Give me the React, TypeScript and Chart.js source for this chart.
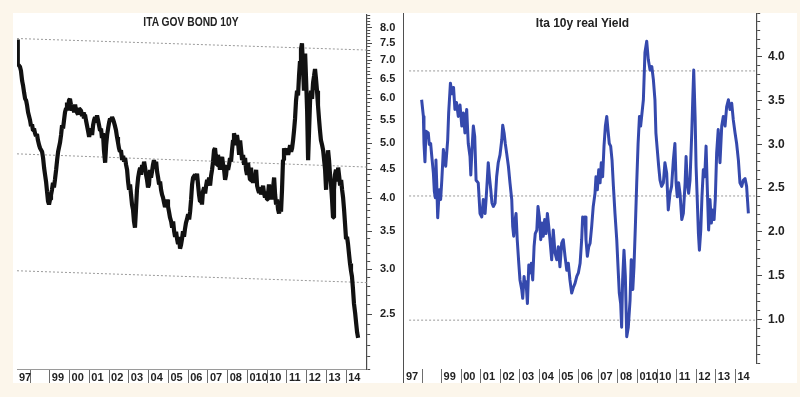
import React, { useEffect, useRef } from 'react';
import { Chart, registerables } from 'chart.js';

Chart.register(...registerables);

// ---------- data (decimal year, value) ----------
const govBond10y: [number, number][] = [
  [1997.34,7.62],[1997.37,7.12],[1997.39,6.90],[1997.49,6.82],[1997.54,6.71],[1997.60,6.44],[1997.65,6.31],[1997.70,6.14],[1997.75,5.99],[1997.80,5.95],
  [1997.85,5.83],[1997.90,5.67],[1997.95,5.58],[1998.00,5.49],[1998.05,5.36],[1998.10,5.40],[1998.15,5.27],[1998.20,5.31],[1998.25,5.21],[1998.30,5.15],
  [1998.35,5.19],[1998.40,5.06],[1998.46,4.96],[1998.51,4.90],[1998.61,4.83],[1998.66,4.71],[1998.71,4.53],[1998.76,4.40],[1998.81,4.28],[1998.86,4.11],
  [1998.91,3.95],[1998.96,3.90],[1999.01,3.98],[1999.06,4.05],[1999.11,4.14],[1999.16,4.26],[1999.21,4.18],[1999.26,4.31],[1999.32,4.49],[1999.37,4.67],
  [1999.42,4.83],[1999.52,5.02],[1999.57,5.17],[1999.62,5.38],[1999.67,5.31],[1999.72,5.49],[1999.77,5.67],[1999.82,5.76],[1999.87,5.90],[1999.92,5.71],
  [1999.97,5.95],[2000.02,5.99],[2000.07,5.85],[2000.13,5.71],[2000.18,5.80],[2000.23,5.67],[2000.28,5.85],[2000.33,5.71],[2000.43,5.62],[2000.48,5.76],
  [2000.58,5.71],[2000.63,5.58],[2000.68,5.67],[2000.73,5.53],[2000.78,5.62],[2000.83,5.49],[2000.88,5.38],[2000.93,5.27],[2000.99,5.13],[2001.04,5.25],
  [2001.09,5.31],[2001.14,5.17],[2001.19,5.38],[2001.24,5.49],[2001.29,5.56],[2001.34,5.44],[2001.39,5.60],[2001.44,5.49],[2001.49,5.38],[2001.54,5.27],
  [2001.59,5.31],[2001.64,5.11],[2001.69,5.21],[2001.74,4.86],[2001.80,4.62],[2001.85,4.96],[2001.90,5.17],[2001.95,5.31],[2002.00,5.44],[2002.05,5.53],
  [2002.10,5.49],[2002.15,5.56],[2002.20,5.51],[2002.25,5.44],[2002.30,5.36],[2002.35,5.27],[2002.40,5.13],[2002.45,5.02],[2002.50,4.90],[2002.55,4.83],
  [2002.60,4.86],[2002.66,4.67],[2002.71,4.75],[2002.76,4.64],[2002.81,4.71],[2002.86,4.58],[2002.91,4.49],[2002.96,4.28],[2003.01,4.14],[2003.06,4.23],
  [2003.11,4.06],[2003.16,3.90],[2003.21,3.82],[2003.26,3.64],[2003.31,3.55],[2003.36,3.82],[2003.41,4.14],[2003.47,4.35],[2003.52,4.45],[2003.57,4.53],
  [2003.62,4.40],[2003.67,4.58],[2003.72,4.49],[2003.77,4.64],[2003.82,4.53],[2003.87,4.40],[2003.92,4.31],[2003.97,4.18],[2004.02,4.23],[2004.07,4.49],
  [2004.12,4.35],[2004.17,4.45],[2004.22,4.58],[2004.27,4.67],[2004.33,4.53],[2004.38,4.64],[2004.43,4.45],[2004.48,4.35],[2004.53,4.23],[2004.58,4.28],
  [2004.63,4.14],[2004.68,4.06],[2004.73,4.01],[2004.78,3.93],[2004.83,3.86],[2004.88,3.90],[2004.93,3.98],[2004.98,3.87],[2005.03,3.79],[2005.08,3.70],
  [2005.14,3.64],[2005.19,3.55],[2005.24,3.64],[2005.29,3.50],[2005.34,3.42],[2005.39,3.49],[2005.44,3.39],[2005.49,3.32],[2005.54,3.42],[2005.59,3.26],
  [2005.64,3.31],[2005.69,3.39],[2005.74,3.50],[2005.79,3.42],[2005.84,3.53],[2005.89,3.62],[2005.94,3.67],[2006.00,3.75],[2006.05,3.67],[2006.10,3.79],
  [2006.15,3.98],[2006.20,4.23],[2006.25,4.35],[2006.35,4.40],[2006.40,4.31],[2006.45,4.42],[2006.50,4.23],[2006.55,4.06],[2006.60,3.95],[2006.65,4.01],
  [2006.70,3.90],[2006.75,4.11],[2006.81,4.18],[2006.86,4.08],[2006.91,4.21],[2006.96,4.31],[2007.01,4.25],[2007.06,4.35],[2007.11,4.21],[2007.16,4.38],
  [2007.21,4.49],[2007.26,4.64],[2007.31,4.86],[2007.36,4.90],[2007.41,4.71],[2007.46,4.58],[2007.51,4.77],[2007.56,4.64],[2007.61,4.49],[2007.67,4.67],
  [2007.72,4.73],[2007.77,4.58],[2007.82,4.49],[2007.87,4.31],[2007.92,4.40],[2007.97,4.58],[2008.02,4.49],[2008.07,4.58],[2008.12,4.71],[2008.17,4.64],
  [2008.22,4.86],[2008.27,5.06],[2008.32,5.21],[2008.37,5.11],[2008.42,4.96],[2008.47,5.17],[2008.53,5.00],[2008.58,4.77],[2008.63,5.06],[2008.68,4.86],
  [2008.73,4.67],[2008.78,4.77],[2008.83,4.58],[2008.88,4.71],[2008.93,4.49],[2008.98,4.40],[2009.03,4.62],[2009.08,4.45],[2009.13,4.31],[2009.18,4.53],
  [2009.23,4.35],[2009.28,4.26],[2009.34,4.40],[2009.39,4.28],[2009.44,4.49],[2009.49,4.21],[2009.54,4.14],[2009.59,4.09],[2009.64,4.18],[2009.69,4.06],
  [2009.74,4.14],[2009.79,4.21],[2009.84,4.08],[2009.89,4.01],[2009.94,4.11],[2009.99,3.98],[2010.04,4.06],[2010.09,4.23],[2010.14,4.05],[2010.20,4.14],
  [2010.25,3.98],[2010.30,4.18],[2010.35,4.35],[2010.40,4.06],[2010.45,3.90],[2010.50,3.98],[2010.55,3.82],[2010.60,3.76],[2010.65,3.87],[2010.70,3.79],
  [2010.75,4.14],[2010.80,4.67],[2010.85,4.90],[2010.90,4.83],[2010.95,4.77],[2011.01,4.90],[2011.06,4.77],[2011.11,4.86],[2011.16,4.96],[2011.21,4.83],
  [2011.26,4.90],[2011.31,5.06],[2011.36,5.27],[2011.41,5.53],[2011.46,5.95],[2011.51,6.19],[2011.56,6.07],[2011.61,6.57],[2011.66,6.98],[2011.71,7.32],
  [2011.76,7.50],[2011.81,6.84],[2011.86,6.19],[2011.92,7.20],[2011.97,6.44],[2012.02,5.71],[2012.07,4.67],[2012.12,5.27],[2012.17,5.95],[2012.22,6.19],
  [2012.27,5.99],[2012.32,6.39],[2012.37,6.57],[2012.42,6.76],[2012.47,6.49],[2012.52,6.19],[2012.57,5.83],[2012.62,5.53],[2012.67,5.27],[2012.72,5.06],
  [2012.78,4.96],[2012.83,4.86],[2012.88,4.67],[2012.93,4.49],[2012.98,4.14],[2013.03,4.58],[2013.08,4.86],[2013.13,4.67],[2013.18,4.40],[2013.23,4.23],
  [2013.28,3.98],[2013.33,3.70],[2013.38,4.14],[2013.43,4.40],[2013.48,4.49],[2013.53,4.28],[2013.59,4.53],[2013.64,4.38],[2013.69,4.21],[2013.74,4.31],
  [2013.79,4.14],[2013.84,4.01],[2013.89,3.82],[2013.94,3.60],[2013.99,3.39],[2014.04,3.42],[2014.09,3.32],[2014.14,3.19],[2014.19,3.07],[2014.24,2.98],
  [2014.29,2.91],[2014.34,2.77],[2014.39,2.61],[2014.45,2.51],[2014.50,2.41],[2014.55,2.32],[2014.60,2.27],
];

const realYield10y: [number, number][] = [
  [1997.98,3.51],[1998.07,3.32],[1998.10,3.01],[1998.15,2.80],[1998.20,3.15],[1998.32,3.13],[1998.37,3.00],[1998.44,3.01],[1998.50,2.86],[1998.58,2.67],
  [1998.63,2.46],[1998.68,2.39],[1998.71,2.82],[1998.75,2.56],[1998.80,2.16],[1998.88,2.48],[1998.95,2.37],[1999.01,2.59],[1999.09,2.94],[1999.16,2.82],
  [1999.21,2.75],[1999.26,2.90],[1999.31,3.05],[1999.36,3.36],[1999.41,3.55],[1999.45,3.70],[1999.53,3.58],[1999.61,3.65],[1999.68,3.40],[1999.76,3.48],
  [1999.85,3.32],[1999.94,3.45],[2000.03,3.21],[2000.11,3.36],[2000.19,3.13],[2000.28,3.40],[2000.36,3.01],[2000.45,2.86],[2000.49,2.65],[2000.55,2.94],
  [2000.62,3.21],[2000.69,3.09],[2000.76,2.59],[2000.87,2.56],[2000.96,2.21],[2001.05,2.17],[2001.13,2.37],[2001.22,2.21],[2001.27,2.37],[2001.33,2.59],
  [2001.38,2.79],[2001.44,2.63],[2001.51,2.48],[2001.57,2.33],[2001.64,2.29],[2001.73,2.33],[2001.81,2.63],[2001.89,2.79],[2001.98,2.88],[2002.07,3.05],
  [2002.12,3.22],[2002.19,3.13],[2002.25,3.01],[2002.32,2.90],[2002.41,2.75],[2002.49,2.56],[2002.58,2.37],[2002.63,2.06],[2002.68,1.95],[2002.73,2.10],
  [2002.80,2.21],[2002.86,1.91],[2002.94,1.64],[2003.00,1.45],[2003.09,1.34],[2003.14,1.24],[2003.21,1.49],[2003.26,1.37],[2003.31,1.43],[2003.38,1.18],
  [2003.45,1.62],[2003.51,1.53],[2003.58,1.64],[2003.65,1.45],[2003.72,1.83],[2003.78,1.98],[2003.86,2.02],[2003.92,2.29],[2003.99,2.17],[2004.06,1.91],
  [2004.13,2.10],[2004.19,1.95],[2004.26,2.14],[2004.33,1.98],[2004.40,2.21],[2004.47,2.06],[2004.53,1.91],[2004.62,1.68],[2004.70,2.02],[2004.79,1.76],
  [2004.88,1.68],[2004.96,1.83],[2005.04,1.60],[2005.13,1.87],[2005.21,1.91],[2005.30,1.72],[2005.39,1.56],[2005.47,1.64],[2005.55,1.45],[2005.64,1.30],
  [2005.72,1.36],[2005.81,1.41],[2005.90,1.49],[2005.98,1.53],[2006.07,1.64],[2006.15,1.91],[2006.20,2.17],[2006.27,2.10],[2006.32,2.17],[2006.37,1.91],
  [2006.44,1.72],[2006.51,1.83],[2006.58,1.87],[2006.66,2.06],[2006.74,2.29],[2006.83,2.44],[2006.88,2.63],[2006.95,2.48],[2007.02,2.71],[2007.09,2.56],
  [2007.15,2.79],[2007.22,2.63],[2007.29,2.98],[2007.36,3.21],[2007.43,3.32],[2007.49,3.17],[2007.56,3.01],[2007.63,2.98],[2007.70,2.82],[2007.77,2.52],
  [2007.85,2.21],[2007.94,1.91],[2008.02,1.53],[2008.07,1.30],[2008.14,1.18],[2008.19,0.91],[2008.24,1.45],[2008.31,1.79],[2008.38,1.49],[2008.45,0.80],
  [2008.53,0.91],[2008.62,1.22],[2008.68,1.68],[2008.76,1.34],[2008.82,1.60],[2008.89,2.06],[2008.96,2.56],[2009.03,3.01],[2009.10,3.32],[2009.16,3.21],
  [2009.23,3.36],[2009.30,3.51],[2009.38,4.05],[2009.47,4.18],[2009.55,3.97],[2009.64,3.85],[2009.73,3.89],[2009.81,3.74],[2009.89,3.51],[2009.94,3.13],
  [2010.01,2.94],[2010.08,2.75],[2010.15,2.59],[2010.23,2.52],[2010.32,2.56],[2010.40,2.79],[2010.49,2.67],[2010.57,2.25],[2010.66,2.44],[2010.74,2.52],
  [2010.83,2.82],[2010.91,3.01],[2010.97,2.56],[2011.03,2.40],[2011.10,2.56],[2011.17,2.44],[2011.26,2.14],[2011.34,2.21],[2011.43,2.56],[2011.48,2.86],
  [2011.54,2.56],[2011.61,2.44],[2011.68,2.59],[2011.77,3.13],[2011.82,3.51],[2011.87,3.85],[2011.94,3.32],[2011.99,2.75],[2012.05,2.37],[2012.11,1.98],
  [2012.16,1.79],[2012.23,2.02],[2012.29,2.40],[2012.36,2.71],[2012.43,2.63],[2012.50,2.98],[2012.56,2.52],[2012.63,2.02],[2012.70,2.37],[2012.77,2.10],
  [2012.84,2.25],[2012.91,2.14],[2012.97,2.37],[2013.04,2.90],[2013.12,3.17],[2013.21,2.79],[2013.30,3.21],[2013.38,3.32],[2013.47,3.21],[2013.55,3.43],
  [2013.64,3.51],[2013.72,3.40],[2013.81,3.47],[2013.89,3.28],[2013.98,3.13],[2014.06,3.01],[2014.15,2.82],[2014.23,2.56],[2014.32,2.52],[2014.40,2.59],
  [2014.49,2.61],[2014.57,2.52],[2014.66,2.21],
];

// dotted trend lines, left panel: [start value, end value] across the whole time span
const leftTrendTop: [number, number] = [7.65, 7.30];
const leftTrendMid: [number, number] = [4.79, 4.54];
const leftTrendLow: [number, number] = [2.98, 2.84];
// dotted horizontal levels, right panel
const rightLevels: number[] = [3.84, 2.41, 0.99];
const rightLevelStart = 1997.34;

// axes
const leftXRange: [number, number] = [1997.34, 2015.05];
const rightXRange: [number, number] = [1997.08, 2015.1];
const yearTicks: number[] = [1997, 1998, 1999, 2000, 2001, 2002, 2003, 2004, 2005, 2006, 2007, 2008, 2009, 2010, 2011, 2012, 2013, 2014];
const yearLabels: string[] = ['97', '', '99', '00', '01', '02', '03', '04', '05', '06', '07', '08', '010', '10', '11', '12', '13', '14'];
const leftYRange: [number, number] = [2.0, 8.43];
const leftYLabels: number[] = [2.5, 3.0, 3.5, 4.0, 4.5, 5.0, 5.5, 6.0, 6.5, 7.0, 7.5, 8.0];
const rightYRange: [number, number] = [0.5, 4.5];
const rightYLabels: number[] = [1.0, 1.5, 2.0, 2.5, 3.0, 3.5, 4.0];

const leftTitle = 'ITA GOV BOND 10Y';
const rightTitle = 'Ita 10y real Yield';

const FONT = "'Liberation Sans', Arial, Helvetica, sans-serif";
const INK = '#222222';
const AXIS = '#4a4a4a';

const r1 = (v: number) => Math.round(v * 10) / 10;

function tenthTicks(lo: number, hi: number) {
  const out: { value: number }[] = [];
  for (let k = Math.round(lo * 10); k <= Math.round(hi * 10); k++) out.push({ value: k / 10 });
  return out;
}

function xAxis(range: [number, number], height: number, tickLength: number, gap: number, padding: number, border: boolean) {
  return {
    type: 'linear' as const,
    min: range[0],
    max: range[1],
    bounds: 'data' as const,
    afterBuildTicks: (s: any) => {
      s.ticks = yearTicks.map((v) => ({ value: Math.max(v, range[0]) }));
    },
    afterFit: (s: any) => {
      s.height = height;
    },
    grid: {
      drawOnChartArea: false,
      drawTicks: true,
      tickLength,
      lineWidth: 1,
      color: (c: any) => (c.index === 0 ? 'rgba(0,0,0,0)' : '#6e6e6e'),
      tickBorderDash: gap > 0 ? [0, gap, tickLength - gap, 0] : [],
    },
    border: { display: border, color: '#9a9a9a', width: 1 },
    ticks: {
      autoSkip: false,
      maxRotation: 0,
      minRotation: 0,
      align: 'start' as const,
      labelOffset: 2,
      padding,
      color: INK,
      font: { family: FONT, size: 11, weight: 'bold' as const },
      callback: (_v: any, i: number) => yearLabels[i] ?? '',
    },
  };
}

function yAxis(type: 'linear' | 'logarithmic', range: [number, number], labels: number[], width: number, padding: number, size: number) {
  const isLabel = (v: number) => labels.includes(r1(v));
  return {
    type,
    position: 'right' as const,
    min: range[0],
    max: range[1],
    bounds: 'data' as const,
    afterBuildTicks: (s: any) => {
      s.ticks = tenthTicks(range[0], Math.floor(range[1] * 10) / 10);
    },
    afterFit: (s: any) => {
      s.width = width;
    },
    grid: {
      drawOnChartArea: false,
      drawTicks: true,
      tickLength: 5,
      lineWidth: 1,
      color: AXIS,
      tickBorderDash: (c: any) => (c.tick && isLabel(c.tick.value) ? [] : [3, 10]),
    },
    border: { display: true, color: AXIS, width: 1.2 },
    ticks: {
      autoSkip: false,
      padding,
      color: INK,
      font: { family: FONT, size, weight: 'bold' as const },
      callback: (v: any) => (isLabel(Number(v)) ? Number(v).toFixed(1) : ''),
    },
  };
}

const pts = (arr: [number, number][]) => arr.map(([x, y]) => ({ x, y }));

export default function App() {
  const leftRef = useRef<HTMLCanvasElement | null>(null);
  const rightRef = useRef<HTMLCanvasElement | null>(null);

  useEffect(() => {
    const dotted = (data: { x: number; y: number }[]) => ({
      data,
      borderColor: '#9a9a9a',
      borderWidth: 1,
      borderDash: [2, 2],
      pointRadius: 0,
      tension: 0,
    });

    const left = new Chart(leftRef.current as HTMLCanvasElement, {
      type: 'line',
      data: {
        datasets: [
          {
            data: pts(govBond10y),
            borderColor: '#111111',
            borderWidth: 4.2,
            borderJoinStyle: 'bevel',
            pointRadius: 0,
            tension: 0,
          },
          dotted([{ x: leftXRange[0], y: leftTrendTop[0] }, { x: leftXRange[1], y: leftTrendTop[1] }]),
          dotted([{ x: leftXRange[0], y: leftTrendMid[0] }, { x: leftXRange[1], y: leftTrendMid[1] }]),
          dotted([{ x: leftXRange[0], y: leftTrendLow[0] }, { x: leftXRange[1], y: leftTrendLow[1] }]),
        ] as any,
      },
      options: {
        animation: false,
        responsive: false,
        events: [],
        layout: { padding: { left: 17, top: 13, right: 0, bottom: 0 } },
        plugins: { legend: { display: false }, tooltip: { enabled: false }, title: { display: false } },
        scales: {
          x: xAxis(leftXRange, 28, 14, 0, -11.6, true),
          y: yAxis('logarithmic', leftYRange, leftYLabels, 33, 8, 11),
        } as any,
      },
    });

    const right = new Chart(rightRef.current as HTMLCanvasElement, {
      type: 'line',
      data: {
        datasets: [
          {
            data: pts(realYield10y),
            borderColor: '#3549ad',
            borderWidth: 3,
            borderJoinStyle: 'round',
            pointRadius: 0,
            tension: 0,
          },
          ...rightLevels.map((lv) => dotted([{ x: rightLevelStart, y: lv }, { x: rightXRange[1], y: lv }])),
        ] as any,
      },
      options: {
        animation: false,
        responsive: false,
        events: [],
        layout: { padding: { left: 4, top: 13, right: 0, bottom: 0 } },
        plugins: { legend: { display: false }, tooltip: { enabled: false }, title: { display: false } },
        scales: {
          x: xAxis(rightXRange, 34, 20, 6, -12.6, false),
          y: yAxis('linear', rightYRange, rightYLabels, 43, 6, 12),
        } as any,
      },
    });

    return () => {
      left.destroy();
      right.destroy();
    };
  }, []);

  return (
    <div style={{ position: 'fixed', left: 0, top: 0, width: 800, height: 397, background: '#fcf6eb', overflow: 'hidden' }}>
      <div style={{ position: 'absolute', left: 13, top: 13, width: 784, height: 370, background: '#ffffff' }} />
      <div style={{ position: 'absolute', left: 0, top: 0, width: 400, height: 397 }}>
        <canvas ref={leftRef} width={400} height={397} style={{ display: 'block' }} />
      </div>
      <div style={{ position: 'absolute', left: 400, top: 0, width: 400, height: 397 }}>
        <canvas ref={rightRef} width={400} height={397} style={{ display: 'block' }} />
      </div>
      <div style={{ position: 'absolute', left: 403, top: 13, width: 1, height: 370, background: '#4f4f4f' }} />
      <div
        style={{
          position: 'absolute',
          left: 0,
          top: 15,
          width: 382,
          textAlign: 'center',
          font: `bold 13px ${FONT}`,
          lineHeight: '13px',
          color: INK,
          transform: 'scaleX(0.79)',
          transformOrigin: '50% 0',
          whiteSpace: 'nowrap',
        }}
      >
        {leftTitle}
      </div>
      <div
        style={{
          position: 'absolute',
          left: 404,
          top: 16.6,
          width: 357,
          textAlign: 'center',
          font: `bold 12px ${FONT}`,
          lineHeight: '12px',
          color: INK,
          whiteSpace: 'nowrap',
        }}
      >
        {rightTitle}
      </div>
    </div>
  );
}
